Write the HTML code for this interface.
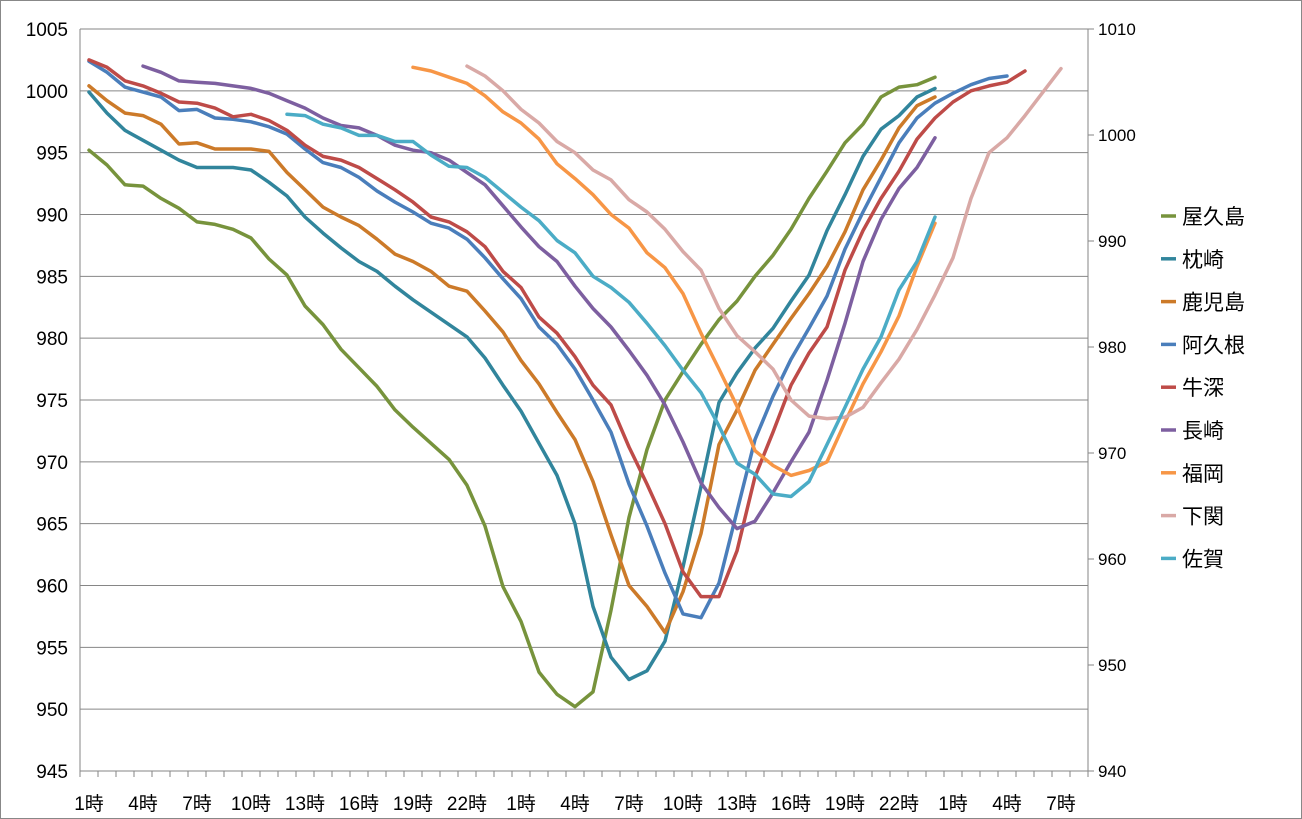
<!DOCTYPE html>
<html><head><meta charset="utf-8"><style>
body{margin:0;background:#fff;}
svg{display:block;font-family:"Liberation Sans","Noto Sans CJK JP",sans-serif;}
</style></head><body>
<svg id="chart" width="1302" height="819" viewBox="0 0 1302 819">
<rect x="0.5" y="0.5" width="1301" height="818" fill="#fff" stroke="#888"/>
<g id="grid"></g><g id="axes"></g><g id="series"></g><g id="legend"></g>
</svg>
<script>
const xLabels = ["1時","4時","7時","10時","13時","16時","19時","22時","1時","4時","7時","10時","13時","16時","19時","22時","1時","4時","7時"];
const leftTicks = [1005,1000,995,990,985,980,975,970,965,960,955,950,945];
const rightTicks = [1010,1000,990,980,970,960,950,940];
const names = ["屋久島","枕崎","鹿児島","阿久根","牛深","長崎","福岡","下関","佐賀"];
const colors = ["#77933c","#31859c","#cc7a29","#4a7ebb","#be4b48","#7d5fa0","#f79646","#d9a9a6","#4bacc6"];
const starts = [0,0,0,0,0,3,18,21,11];
const s0 = [995.2,994,992.4,992.3,991.3,990.5,989.4,989.2,988.8,988.1,986.4,985.1,982.6,981.1,979.1,977.6,976.1,974.2,972.8,971.5,970.2,968.1,964.8,959.9,957.1,953.0,951.2,950.2,951.4,958,965.5,971,975,977.3,979.5,981.5,983,985,986.7,988.8,991.3,993.5,995.8,997.3,999.5,1000.3,1000.5,1001.1];
const s1 = [999.9,998.2,996.8,996,995.2,994.4,993.8,993.8,993.8,993.6,992.6,991.5,989.8,988.5,987.3,986.2,985.4,984.2,983.1,982.1,981.1,980.1,978.4,976.2,974.1,971.5,968.9,965.0,958.3,954.2,952.4,953.1,955.5,961.5,968,974.8,977.2,979.2,980.8,983,985.1,988.7,991.6,994.7,996.9,998,999.5,1000.2];
const s2 = [1000.4,999.2,998.2,998,997.3,995.7,995.8,995.3,995.3,995.3,995.1,993.4,992,990.6,989.8,989.1,988,986.8,986.2,985.4,984.2,983.8,982.2,980.5,978.2,976.3,974,971.8,968.4,964.1,960,958.3,956.2,959.5,964.2,971.4,974.2,977.4,979.5,981.6,983.6,985.8,988.6,992,994.4,997,998.8,999.5];
const s3 = [1002.4,1001.5,1000.3,999.9,999.5,998.4,998.5,997.8,997.7,997.5,997.1,996.5,995.3,994.2,993.8,993,991.9,991.0,990.2,989.3,988.9,988,986.5,984.8,983.2,980.9,979.5,977.5,975,972.4,968.2,964.8,961,957.7,957.4,960.2,966,971.8,975.3,978.3,980.8,983.4,987.2,990.2,993,995.8,997.8,999,999.8,1000.5,1001.0,1001.2];
const s4 = [1002.5,1001.9,1000.8,1000.4,999.8,999.1,999,998.6,997.9,998.1,997.6,996.8,995.6,994.7,994.4,993.8,992.9,992,991,989.8,989.4,988.6,987.4,985.4,984.1,981.7,980.4,978.5,976.2,974.6,971.2,968.2,965,961.1,959.1,959.1,962.8,968.8,972.4,976.2,978.8,980.9,985.5,988.7,991.3,993.5,996.1,997.8,999.1,1000,1000.4,1000.7,1001.6];
const s5 = [1002.0,1001.5,1000.8,1000.7,1000.6,1000.4,1000.2,999.8,999.2,998.6,997.8,997.2,997,996.4,995.6,995.2,995,994.4,993.4,992.4,990.7,989,987.4,986.2,984.2,982.4,980.9,979,977,974.6,971.6,968.3,966.3,964.6,965.2,967.5,970,972.4,976.6,981.2,986.2,989.6,992.1,993.8,996.2];
const s6 = [1001.9,1001.6,1001.1,1000.6,999.6,998.3,997.4,996.1,994.1,992.9,991.6,990,988.9,986.9,985.7,983.6,980.4,977.5,974.5,970.9,969.7,968.9,969.3,970,973.2,976.3,978.9,981.8,985.8,989.3];
const s7 = [1002,1001.2,1000,998.5,997.4,995.9,995,993.6,992.8,991.2,990.2,988.8,987.0,985.5,982.4,980.2,978.9,977.5,975,973.7,973.5,973.6,974.4,976.4,978.3,980.7,983.5,986.5,991.3,995,996.2,998,999.9,1001.8];
const s8 = [998.1,998,997.3,997,996.4,996.4,995.9,995.9,994.8,993.9,993.8,993,991.8,990.6,989.5,987.9,986.9,985,984.1,982.9,981.2,979.4,977.4,975.6,972.9,969.9,969,967.4,967.2,968.4,971.4,974.4,977.5,980.1,983.9,986.2,989.8];
const seriesData = [s0,s1,s2,s3,s4,s5,s6,s7,s8];

const NS="http://www.w3.org/2000/svg";
const PL=80, PR=1088, PT=29, PB=771, NCAT=56;
const xScale = i => PL + (PR-PL)/NCAT*(i+0.5);
const yScale = v => PT + (1005-v)/(1005-945)*(PB-PT);
const yRight = v => PT + (1010-v)/(1010-940)*(PB-PT);
function mk(tag, attrs, parent){const e=document.createElementNS(NS,tag);for(const k in attrs)e.setAttribute(k,attrs[k]);parent.appendChild(e);return e;}
const grid=document.getElementById('grid'), axes=document.getElementById('axes'), ser=document.getElementById('series'), leg=document.getElementById('legend');

leftTicks.forEach(t=>{
  const y=yScale(t);
  const l=mk('line',{x1:PL,x2:PR,y1:y,y2:y,stroke:'#868686','stroke-width':1},grid);
  
  
  const tx=mk('text',{x:PL-12,y:y+7,'text-anchor':'end','font-size':19,fill:'#000'},axes);
  tx.textContent=t;
  
  
});
rightTicks.forEach(t=>{
  const y=yRight(t);
  const l=mk('line',{x1:PR,x2:PR+6,y1:y,y2:y,stroke:'#868686'},axes);
  
  
  const tx=mk('text',{x:PR+10,y:y+6,'font-size':17,fill:'#000'},axes);
  tx.textContent=t;
  
  
});
let la=mk('line',{x1:PL,x2:PL,y1:PT,y2:PB,stroke:'#868686'},axes);


let ra=mk('line',{x1:PR,x2:PR,y1:PT,y2:PB,stroke:'#868686'},axes);


for(let i=0;i<=NCAT;i++){
  const x=PL+(PR-PL)/NCAT*i;
  const tk=mk('line',{x1:x,x2:x,y1:PB,y2:PB+6,stroke:'#868686'},axes);
  
  
}
xLabels.forEach((lab,k)=>{
  const tx=mk('text',{x:xScale(k*3),y:PB+39,'text-anchor':'middle','font-size':19,fill:'#000'},axes);
  tx.textContent=lab;
  
  
});
seriesData.forEach((arr,si)=>{
  const pts=arr.map((v,j)=>xScale(starts[si]+j).toFixed(1)+','+yScale(v).toFixed(1)).join(' ');
  const pl=mk('polyline',{points:pts,fill:'none',stroke:colors[si],'stroke-width':3.5,'stroke-linejoin':'round','stroke-linecap':'round'},ser);
  
  
  const y=216+si*42.8;
  const g=mk('g',{},leg);
  
  
  mk('line',{x1:1161,x2:1176,y1:y,y2:y,stroke:colors[si],'stroke-width':3.5},g);
  const tx=mk('text',{x:1182,y:y+8,'font-size':21,fill:'#000'},g);
  tx.textContent=names[si];
});
</script>
</body></html>
